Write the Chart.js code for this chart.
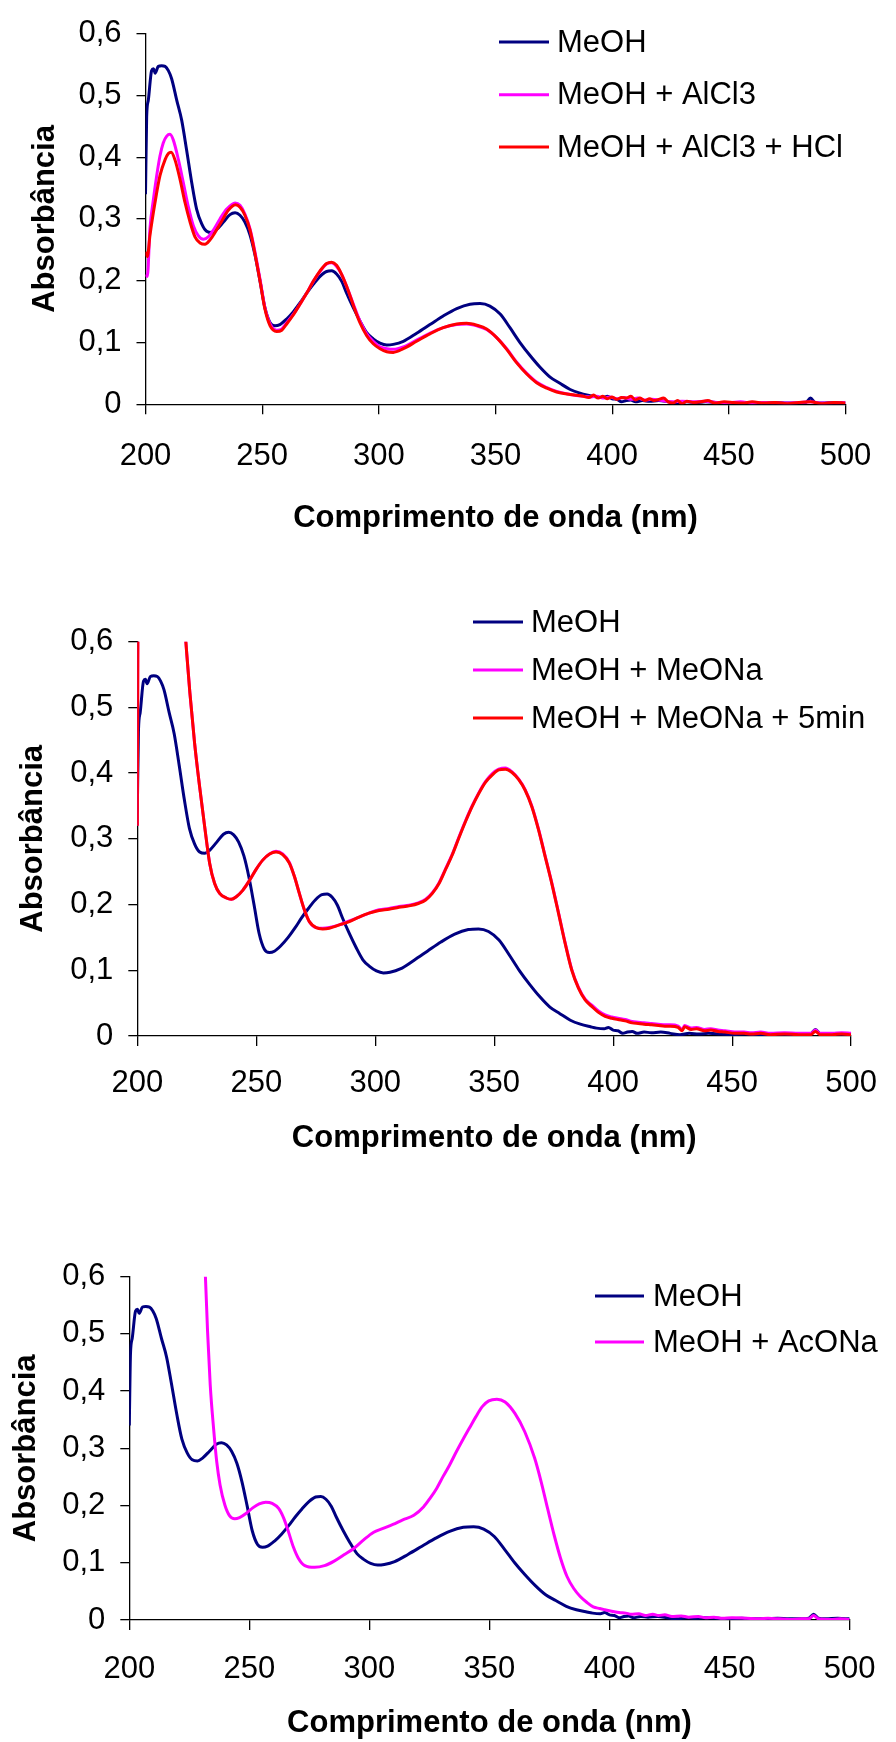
<!DOCTYPE html>
<html lang="pt">
<head>
<meta charset="utf-8">
<title>Espectros UV</title>
<script src="https://cdn.jsdelivr.net/npm/chart.js@4.4.1/dist/chart.umd.min.js"></script>
<style>
  body { margin: 0; background: #fff; width: 896px; height: 1742px; position: relative; overflow: hidden; }
  canvas { position: absolute; left: 0; }
</style>
</head>
<body>
<canvas id="grafico1" width="896" height="570" style="top:0px"></canvas>
<canvas id="grafico2" width="896" height="590" style="top:570px"></canvas>
<canvas id="grafico3" width="896" height="582" style="top:1160px"></canvas>
<script>
// comprimento de onda (nm) x absorbância
const meoh = [
  [200, 0.34], [200.5, 0.466], [201.2, 0.492], [202.6, 0.540], [203.4, 0.543], [204.1, 0.536],
  [205.5, 0.547], [206.9, 0.548], [208.4, 0.547], [209.8, 0.540], [211.2, 0.527], [213.4, 0.492],
  [215.5, 0.460], [217.6, 0.412], [219.8, 0.359], [221.9, 0.316], [224.1, 0.292], [226.2, 0.280],
  [228.4, 0.278], [230.5, 0.283], [233.4, 0.295], [236.2, 0.307], [238.4, 0.310], [240.5, 0.306],
  [242.6, 0.295], [244.8, 0.274], [246.9, 0.242], [249.1, 0.199], [251.2, 0.156], [253.4, 0.132],
  [255.5, 0.127], [257.6, 0.129], [260.5, 0.138], [263.4, 0.150], [266.2, 0.164], [269.1, 0.180],
  [271.9, 0.194], [274.8, 0.207], [277.6, 0.215], [279.8, 0.216], [281.9, 0.211], [284.1, 0.199],
  [286.2, 0.180], [289.1, 0.156], [291.9, 0.135], [294.8, 0.116], [297.6, 0.106], [300.5, 0.099],
  [303.4, 0.096], [306.2, 0.097], [310.5, 0.102], [316.2, 0.115], [321.9, 0.129], [327.6, 0.143],
  [333.4, 0.155], [339.1, 0.162], [343.4, 0.163], [347.6, 0.159], [352.0, 0.146], [356.2, 0.124],
  [360.5, 0.100], [364.8, 0.079], [369.1, 0.060], [373.4, 0.044], [377.6, 0.034], [382.0, 0.024],
  [386.2, 0.018], [390.5, 0.014], [393, 0.012], [396.2, 0.011], [398, 0.013], [400, 0.009],
  [402, 0.008], [404, 0.004], [406, 0.006], [408, 0.007], [410, 0.004], [413, 0.006], [416, 0.005],
  [420, 0.006], [424, 0.004], [428, 0.002], [432, 0.004], [436, 0.003], [440, 0.004], [445, 0.003],
  [450, 0.002], [455, 0.003], [460, 0.002], [465, 0.002], [470, 0.003], [475, 0.002], [480, 0.002],
  [483, 0.003], [485, 0.010], [487, 0.003], [490, 0.002], [495, 0.003], [500, 0.002]
];

const meohAlcl3 = [
  [200, 0.210], [200.8, 0.207], [201.9, 0.284], [203.4, 0.332], [204.8, 0.370], [206.2, 0.402],
  [207.6, 0.423], [209.1, 0.434], [210.5, 0.437], [211.9, 0.428], [214.1, 0.396], [216.2, 0.359],
  [218.4, 0.319], [220.5, 0.289], [222.6, 0.273], [224.8, 0.267], [226.9, 0.271], [229.1, 0.282],
  [231.9, 0.300], [234.8, 0.316], [238.4, 0.326], [240.5, 0.322], [242.6, 0.308], [244.8, 0.284],
  [246.9, 0.247], [249.1, 0.202], [251.2, 0.156], [253.4, 0.130], [256.2, 0.120], [258.4, 0.122],
  [260.5, 0.132], [263.4, 0.146], [266.2, 0.162], [269.1, 0.180], [271.9, 0.199], [274.8, 0.215],
  [277.6, 0.227], [279.8, 0.229], [281.9, 0.223], [284.1, 0.210], [286.2, 0.191], [289.1, 0.162],
  [291.9, 0.135], [294.8, 0.114], [297.6, 0.102], [300.5, 0.093], [303.4, 0.090], [306.2, 0.089],
  [310.5, 0.093], [316.2, 0.104], [321.9, 0.115], [327.6, 0.124], [333.4, 0.129], [337.6, 0.130],
  [342, 0.127], [346.2, 0.121], [350.5, 0.108], [354.8, 0.090], [359.1, 0.068], [363.4, 0.050],
  [367.6, 0.036], [372, 0.027], [376.2, 0.021], [382, 0.016], [387.7, 0.013], [391, 0.012],
  [393.4, 0.013], [396, 0.010], [399, 0.012], [402, 0.009], [405, 0.011], [408, 0.008], [411, 0.010],
  [414, 0.007], [417, 0.008], [420, 0.007], [423, 0.005], [426, 0.004], [430, 0.005], [435, 0.004],
  [440, 0.005], [445, 0.003], [450, 0.003], [455, 0.004], [460, 0.002], [465, 0.003], [470, 0.002],
  [475, 0.002], [480, 0.003], [485, 0.004], [490, 0.002], [495, 0.002], [500, 0.003]
];

const meohAlcl3Hcl = [
  [200, 0.247], [200.8, 0.239], [201.9, 0.273], [204.1, 0.327], [206.2, 0.370], [208.4, 0.396],
  [209.8, 0.406], [211.0, 0.408], [212.6, 0.396], [214.8, 0.364], [216.9, 0.327], [219.1, 0.295],
  [221.2, 0.271], [223.4, 0.261], [225.5, 0.259], [227.6, 0.266], [229.8, 0.278], [232.6, 0.296],
  [235.5, 0.314], [238.6, 0.323], [240.5, 0.319], [242.6, 0.306], [244.8, 0.282], [246.9, 0.244],
  [249.1, 0.199], [251.2, 0.154], [253.4, 0.127], [256.2, 0.118], [258.4, 0.120], [260.5, 0.130],
  [263.4, 0.145], [266.2, 0.162], [269.1, 0.180], [271.9, 0.199], [274.8, 0.216], [277.6, 0.228],
  [279.8, 0.230], [281.9, 0.225], [284.1, 0.210], [286.2, 0.191], [289.1, 0.160], [291.9, 0.132],
  [294.8, 0.111], [297.6, 0.098], [300.5, 0.090], [303.4, 0.085], [306.2, 0.084], [310.5, 0.090],
  [316.2, 0.102], [321.9, 0.114], [327.6, 0.124], [333.4, 0.130], [337.6, 0.131], [342, 0.128],
  [346.2, 0.122], [350.5, 0.108], [354.8, 0.089], [359.1, 0.067], [363.4, 0.049], [367.6, 0.035],
  [372, 0.026], [376.2, 0.020], [382, 0.016], [387.7, 0.013], [390, 0.011], [392, 0.015],
  [394, 0.010], [396, 0.013], [398, 0.009], [400, 0.012], [402, 0.008], [404, 0.011], [406, 0.010],
  [408, 0.013], [410, 0.007], [412, 0.010], [414, 0.006], [416, 0.009], [418, 0.006], [420, 0.008],
  [422, 0.010], [424, 0.004], [426, 0.002], [428, 0.006], [430, 0.001], [432, 0.005], [435, 0.003],
  [438, 0.004], [441, 0.006], [444, 0.002], [448, 0.004], [452, 0.003], [456, 0.002], [460, 0.004],
  [465, 0.002], [470, 0.003], [475, 0.001], [480, 0.003], [485, 0.004], [490, 0.001], [495, 0.003],
  [500, 0.002]
];

const meohMeona = [
  [200, 0.32], [200.6, 0.95], [210, 1.30], [216, 0.82], [218.5, 0.69], [220.4, 0.600], [222.1, 0.522],
  [224.1, 0.445], [226.2, 0.379], [228.3, 0.319], [230.4, 0.263], [232.5, 0.232], [234.6, 0.217],
  [237.4, 0.210], [239.5, 0.208], [241.6, 0.212], [244.4, 0.222], [247.2, 0.237], [250.0, 0.254],
  [252.8, 0.268], [255.6, 0.277], [258.3, 0.281], [261.1, 0.277], [263.9, 0.264], [266.0, 0.243],
  [268.1, 0.217], [270.2, 0.192], [272.3, 0.174], [275.1, 0.165], [277.9, 0.164], [280.7, 0.165],
  [284.9, 0.169], [289.1, 0.175], [293.2, 0.181], [297.4, 0.187], [301.6, 0.192], [305.8, 0.194],
  [310.0, 0.197], [314.2, 0.199], [318.4, 0.203], [321.2, 0.208], [324, 0.218], [326.8, 0.233],
  [329.5, 0.254], [332.3, 0.276], [335.1, 0.302], [337.9, 0.327], [340.7, 0.350], [343.5, 0.370],
  [346.3, 0.387], [349.1, 0.399], [351.9, 0.406], [354.7, 0.408], [357.5, 0.402], [360.3, 0.391],
  [363.0, 0.375], [365.8, 0.350], [368.6, 0.315], [371.4, 0.274], [374.2, 0.233], [377.0, 0.188],
  [379.8, 0.142], [382.6, 0.101], [385.4, 0.074], [388.2, 0.056], [391, 0.047], [393.8, 0.038],
  [396.6, 0.032], [399.4, 0.029], [402, 0.027], [405, 0.025], [408, 0.022], [410.5, 0.021],
  [413, 0.020], [416.1, 0.019], [419, 0.018], [421.7, 0.017], [424, 0.017], [427.3, 0.015],
  [429, 0.010], [430, 0.016], [432.8, 0.012], [435, 0.013], [438.4, 0.010], [441, 0.011],
  [444, 0.009], [447, 0.008], [451, 0.006], [455, 0.006], [458, 0.005], [462, 0.006], [466, 0.004],
  [472, 0.005], [478, 0.004], [483, 0.004], [485, 0.009], [487, 0.004], [492, 0.004], [496, 0.005],
  [500, 0.004]
];

const meohMeona5min = [
  [200, 0.32], [200.6, 0.95], [210, 1.30], [216, 0.82], [218.5, 0.69], [220.4, 0.600], [222.1, 0.522],
  [224.1, 0.445], [226.2, 0.379], [228.3, 0.319], [230.4, 0.263], [232.5, 0.232], [234.6, 0.217],
  [237.4, 0.210], [239.5, 0.208], [241.6, 0.212], [244.4, 0.222], [247.2, 0.237], [250.0, 0.254],
  [252.8, 0.268], [255.6, 0.277], [258.3, 0.280], [261.1, 0.276], [263.9, 0.263], [266.0, 0.243],
  [268.1, 0.217], [270.2, 0.192], [272.3, 0.174], [275.1, 0.165], [277.9, 0.163], [280.7, 0.164],
  [284.9, 0.169], [289.1, 0.174], [293.2, 0.181], [297.4, 0.187], [301.6, 0.191], [305.8, 0.193],
  [310.0, 0.196], [314.2, 0.198], [318.4, 0.202], [321.2, 0.207], [324, 0.217], [326.8, 0.232],
  [329.5, 0.253], [332.3, 0.275], [335.1, 0.301], [337.9, 0.326], [340.7, 0.349], [343.5, 0.369],
  [346.3, 0.386], [349.1, 0.397], [351.9, 0.405], [354.7, 0.406], [357.5, 0.401], [360.3, 0.390],
  [363.0, 0.374], [365.8, 0.349], [368.6, 0.314], [371.4, 0.273], [374.2, 0.232], [377.0, 0.187],
  [379.8, 0.141], [382.6, 0.100], [385.4, 0.073], [388.2, 0.055], [391, 0.045], [393.8, 0.036],
  [396.6, 0.030], [399.4, 0.027], [402, 0.025], [405, 0.023], [408, 0.020], [410.5, 0.019],
  [413, 0.018], [416.1, 0.017], [419, 0.016], [421.7, 0.015], [424, 0.015], [427.3, 0.013],
  [429, 0.008], [430, 0.014], [432.8, 0.010], [435, 0.011], [438.4, 0.008], [441, 0.009],
  [444, 0.007], [447, 0.006], [451, 0.004], [455, 0.004], [458, 0.003], [462, 0.004], [466, 0.002],
  [472, 0.003], [478, 0.002], [483, 0.002], [485, 0.007], [487, 0.002], [492, 0.002], [496, 0.003],
  [500, 0.002]
];

const meohAcona = [
  [230, 0.72], [231.7, 0.600], [232.6, 0.504], [233.7, 0.411], [235.1, 0.335], [236.4, 0.277],
  [237.8, 0.236], [239.8, 0.201], [241.8, 0.182], [243.9, 0.177], [245.9, 0.179], [248.6, 0.186],
  [251.4, 0.196], [254.1, 0.203], [256.8, 0.206], [259.5, 0.204], [262.2, 0.195], [264.3, 0.178],
  [266.3, 0.154], [268.3, 0.128], [270.4, 0.108], [273.1, 0.095], [277.2, 0.092], [281.3, 0.095],
  [285.3, 0.103], [289.4, 0.114], [293.5, 0.125], [297.6, 0.140], [301.6, 0.153], [305.7, 0.160],
  [309.8, 0.167], [313.9, 0.175], [318.5, 0.183], [322.6, 0.198], [325.3, 0.213], [328, 0.230],
  [330.7, 0.251], [333.4, 0.271], [336.2, 0.294], [338.9, 0.315], [341.6, 0.335], [344.3, 0.355],
  [347, 0.373], [349.7, 0.383], [353.1, 0.386], [356.5, 0.381], [360.6, 0.361], [364.7, 0.329],
  [368.8, 0.283], [371.5, 0.242], [374.2, 0.195], [376.9, 0.149], [379.6, 0.108], [382.3, 0.076],
  [385.1, 0.055], [387.8, 0.041], [390.5, 0.031], [393.2, 0.023], [395.9, 0.020], [398, 0.018],
  [401.4, 0.015], [404, 0.013], [406.8, 0.012], [409, 0.010], [412.2, 0.011], [415, 0.008],
  [418, 0.010], [420.4, 0.008], [423, 0.009], [426, 0.006], [429.9, 0.007], [433, 0.005],
  [437, 0.006], [440, 0.004], [443.5, 0.005], [447, 0.003], [451, 0.004], [457.1, 0.003],
  [462, 0.002], [466, 0.003], [470.7, 0.002], [475, 0.001], [480, 0.002], [483, 0.002],
  [485, 0.008], [487, 0.002], [492, 0.001], [496, 0.002], [500, 0.001]
];

const ticksX = { min: 200, max: 500, passo: 50 };
const ticksY = { min: 0, max: 0.6, passo: 0.1 };

const AZUL = '#000080';
const MAGENTA = '#FF00FF';
const VERMELHO = '#FF0000';
const FONTE = '"Liberation Sans", Arial, Helvetica, sans-serif';

function serie(rotulo, pares, cor, ordem) {
  return {
    label: rotulo,
    data: pares.map(([x, y]) => ({ x, y })),
    borderColor: cor,
    backgroundColor: cor,
    borderWidth: 3,
    pointRadius: 0,
    cubicInterpolationMode: 'monotone',
    order: ordem
  };
}

// titulos dos eixos e legenda desenhados sobre o canvas
const extras = {
  id: 'extras',
  afterDraw(chart, args, opts) {
    const { ctx, chartArea } = chart;
    ctx.save();
    ctx.fillStyle = '#000';
    ctx.textBaseline = 'middle';

    ctx.font = `bold 31px ${FONTE}`;
    ctx.textAlign = 'center';
    ctx.fillText('Comprimento de onda (nm)', (chartArea.left + chartArea.right) / 2, opts.tituloXy);

    ctx.save();
    ctx.translate(opts.tituloYx, (chartArea.top + chartArea.bottom) / 2);
    ctx.rotate(-Math.PI / 2);
    ctx.fillText('Absorbância', 0, 0);
    ctx.restore();

    const leg = opts.legenda;
    ctx.font = `31px ${FONTE}`;
    ctx.textAlign = 'left';
    chart.data.datasets.forEach((ds, i) => {
      const y = leg.linhas[i];
      ctx.strokeStyle = ds.borderColor;
      ctx.lineWidth = 3;
      ctx.beginPath();
      ctx.moveTo(leg.x0, y);
      ctx.lineTo(leg.x1, y);
      ctx.stroke();
      ctx.fillText(ds.label, leg.xTexto, y + 1);
    });
    ctx.restore();
  }
};

function formatarY(v) {
  if (Math.abs(v) < 1e-9) return '0';
  return v.toFixed(1).replace('.', ',');
}

function montarGrafico(id, datasets, g) {
  const canvas = document.getElementById(id);
  const alturaCanvas = canvas.height;
  const eixo = {
    grid: { display: true, drawOnChartArea: false, drawTicks: true, color: '#000', lineWidth: 1.3 },
    border: { display: true, color: '#000', width: 1.3 }
  };
  return new Chart(canvas.getContext('2d'), {
    type: 'line',
    data: { datasets },
    options: {
      responsive: false,
      animation: false,
      events: [],
      layout: {
        autoPadding: false,
        padding: { left: 0, top: g.topo, right: 896 - g.direita, bottom: 0 }
      },
      plugins: {
        legend: { display: false },
        tooltip: { enabled: false },
        extras: { tituloXy: g.tituloXy, tituloYx: g.tituloYx, legenda: g.legenda }
      },
      scales: {
        x: {
          type: 'linear',
          min: ticksX.min,
          max: ticksX.max,
          ticks: {
            stepSize: ticksX.passo,
            color: '#000',
            padding: g.padX,
            maxRotation: 0,
            autoSkip: false,
            font: { family: FONTE, size: 31 }
          },
          grid: { ...eixo.grid, tickLength: 10 },
          border: eixo.border,
          afterFit: (s) => { s.height = alturaCanvas - g.base; }
        },
        y: {
          type: 'linear',
          min: ticksY.min,
          max: ticksY.max,
          ticks: {
            stepSize: ticksY.passo,
            color: '#000',
            padding: 15,
            callback: formatarY,
            font: { family: FONTE, size: 31 }
          },
          grid: { ...eixo.grid, tickLength: 9 },
          border: eixo.border,
          afterFit: (s) => { s.width = g.esquerda; }
        }
      }
    },
    plugins: [extras]
  });
}

montarGrafico('grafico1', [
  serie('MeOH', meoh, AZUL, 2),
  serie('MeOH + AlCl3', meohAlcl3, MAGENTA, 1),
  serie('MeOH + AlCl3 + HCl', meohAlcl3Hcl, VERMELHO, 0)
], {
  esquerda: 145.5, direita: 845.5, topo: 29.3, base: 404.3, padX: 24,
  tituloXy: 518, tituloYx: 45,
  legenda: { x0: 499, x1: 549, xTexto: 557, linhas: [42, 94.7, 147] }
});

montarGrafico('grafico2', [
  serie('MeOH', meoh, AZUL, 2),
  serie('MeOH + MeONa', meohMeona, MAGENTA, 1),
  serie('MeOH + MeONa + 5min', meohMeona5min, VERMELHO, 0)
], {
  esquerda: 137.3, direita: 853.7, topo: 71.7, base: 466, padX: 19,
  tituloXy: 568, tituloYx: 33,
  legenda: { x0: 473, x1: 523, xTexto: 531, linhas: [52, 100, 148] }
});

montarGrafico('grafico3', [
  serie('MeOH', meoh, AZUL, 1),
  serie('MeOH + AcONa', meohAcona, MAGENTA, 0)
], {
  esquerda: 129.3, direita: 865, topo: 116.7, base: 460, padX: 20.5,
  tituloXy: 563.5, tituloYx: 26,
  legenda: { x0: 595, x1: 644, xTexto: 653, linhas: [136, 182] }
});
</script>
</body>
</html>
